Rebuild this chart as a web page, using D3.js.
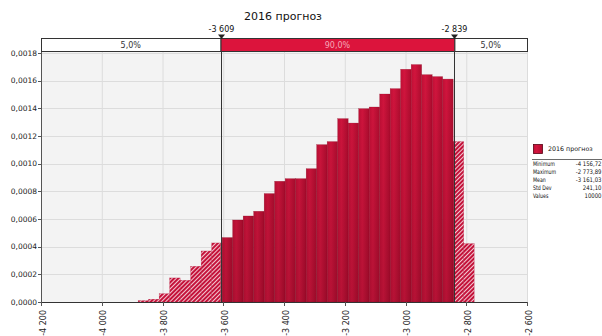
<!DOCTYPE html>
<html><head><meta charset="utf-8">
<script src="https://cdn.jsdelivr.net/npm/d3@7"></script>
<style>
html,body{margin:0;padding:0;background:#fff;overflow:hidden;}
svg{display:block;font-family:"DejaVu Sans",Verdana,sans-serif;}
</style></head>
<body>
<svg id="chart" width="602" height="336"></svg>
<script>
// ---- data ----
const title = "2016 прогноз";
const seriesName = "2016 прогноз";
// densities for 40 equal-width bins spanning [statMin, statMax]
const densities = [
  0,0,0,0,0,0,0,0,
  0.000010,0.000020,0.000060,0.000174,0.000157,0.000258,0.000369,0.000427,
  0.000466,0.000593,0.000622,0.000656,0.000784,0.000873,0.000892,0.000892,
  0.000964,0.001138,0.001160,0.001326,0.001294,0.001398,0.001410,0.001504,
  0.001543,0.001683,0.001717,0.001644,0.001630,0.001612,0.001160,0.000422
];
const statMin = -4156.72, statMax = -2773.89;
const leftCut = -3609, rightCut = -2839;
const bandLabels = ["5,0%", "90,0%", "5,0%"];
const cutLabels = ["-3 609", "-2 839"];
const xTicks = [-4200,-4000,-3800,-3600,-3400,-3200,-3000,-2800,-2600];
const yTicks = [0,0.0002,0.0004,0.0006,0.0008,0.0010,0.0012,0.0014,0.0016,0.0018];
const statNames = ["Minimum","Maximum","Mean","Std Dev","Values"];
const statValues = ["-4 156,72","-2 773,89","-3 161,03","241,10","10000"];

// ---- layout ----
const L = 41, R = 527, T = 51, B = 302;
const svg = d3.select("#chart");
const x = d3.scaleLinear().domain([-4200,-2600]).range([L,R]);
const y = d3.scaleLinear().domain([0,0.001815]).range([B,T]);
const fmtX = v => (v<0?"-":"") + d3.format(",")(Math.abs(v)).replace(/,/g," ");
const fmtY = v => d3.format(".4f")(v).replace(".", ",");

const defs = svg.append("defs");
const g1 = defs.append("linearGradient").attr("id","barGrad").attr("x1",0).attr("x2",1).attr("y1",0).attr("y2",0);
g1.append("stop").attr("offset","0%").attr("stop-color","#c20f36");
g1.append("stop").attr("offset","35%").attr("stop-color","#d4153e");
g1.append("stop").attr("offset","100%").attr("stop-color","#b00c2f");
const g2 = defs.append("linearGradient").attr("id","shade").attr("gradientUnits","userSpaceOnUse")
  .attr("x1",0).attr("x2",0).attr("y1",T).attr("y2",B);
g2.append("stop").attr("offset","0%").attr("stop-color","#000").attr("stop-opacity",0);
g2.append("stop").attr("offset","100%").attr("stop-color","#000").attr("stop-opacity",0.14);
const pat = defs.append("pattern").attr("id","hatch").attr("patternUnits","userSpaceOnUse")
  .attr("width",3).attr("height",3).attr("patternTransform","rotate(45)");
pat.append("rect").attr("width",3).attr("height",3).attr("fill","#c4123a");
pat.append("line").attr("x1",0.5).attr("x2",0.5).attr("y1",0).attr("y2",3).attr("stroke","#f8dde3").attr("stroke-width",0.9);

// plot background
svg.append("rect").attr("x",L).attr("y",T).attr("width",R-L).attr("height",B-T).attr("fill","#f3f3f3");

// gridlines
svg.append("g").selectAll("line").data(xTicks.slice(1)).join("line")
  .attr("x1",d=>x(d)+0.5).attr("x2",d=>x(d)+0.5).attr("y1",T).attr("y2",B)
  .attr("stroke","#dcdcdc").attr("stroke-width",1);
svg.append("g").selectAll("line").data(yTicks.slice(1)).join("line")
  .attr("x1",L).attr("x2",R).attr("y1",d=>Math.round(y(d))+0.5).attr("y2",d=>Math.round(y(d))+0.5)
  .attr("stroke","#dcdcdc").attr("stroke-width",1);

// bins
const nb = densities.length;
const bw = (statMax - statMin)/nb;
const bins = densities.map((d,i)=>({x0: statMin + i*bw, x1: statMin + (i+1)*bw, d}));

defs.append("clipPath").attr("id","cLeft").append("rect")
  .attr("x",L).attr("y",T).attr("width",x(leftCut)-L).attr("height",B-T);
defs.append("clipPath").attr("id","cMid").append("rect")
  .attr("x",x(leftCut)).attr("y",T).attr("width",x(rightCut)-x(leftCut)).attr("height",B-T);
defs.append("clipPath").attr("id","cRight").append("rect")
  .attr("x",x(rightCut)).attr("y",T).attr("width",R-x(rightCut)).attr("height",B-T);

function drawBars(clip, fill, shade){
  const g = svg.append("g").attr("clip-path",`url(#${clip})`);
  const nz = bins.filter(b=>b.d>0);
  g.selectAll("rect.b").data(nz).join("rect").attr("class","b")
    .attr("x",b=>x(b.x0)).attr("y",b=>y(b.d))
    .attr("width",b=>x(b.x1)-x(b.x0)).attr("height",b=>B-y(b.d))
    .attr("fill",fill).attr("stroke", shade ? "#8e0a24" : "#b00c30").attr("stroke-width",0.4).attr("stroke-opacity",0.6);
  if (shade) {
    g.selectAll("rect.s").data(nz).join("rect").attr("class","s")
      .attr("x",b=>x(b.x0)).attr("y",b=>y(b.d))
      .attr("width",b=>x(b.x1)-x(b.x0)).attr("height",b=>B-y(b.d))
      .attr("fill","url(#shade)");
  }
}
drawBars("cLeft","url(#hatch)",false);
drawBars("cMid","url(#barGrad)",true);
drawBars("cRight","url(#hatch)",false);

// axes lines
svg.append("line").attr("x1",L+0.5).attr("x2",L+0.5).attr("y1",T).attr("y2",B+0.5).attr("stroke","#555");
svg.append("line").attr("x1",L).attr("x2",R+0.5).attr("y1",B+0.5).attr("y2",B+0.5).attr("stroke","#333");

// y ticks
const yg = svg.append("g");
yg.selectAll("line").data(yTicks).join("line")
  .attr("x1",L-3).attr("x2",L).attr("y1",d=>Math.round(y(d))+0.5).attr("y2",d=>Math.round(y(d))+0.5).attr("stroke","#555");
yg.selectAll("text").data(yTicks).join("text")
  .attr("x",L-4).attr("y",d=>y(d)).attr("dy","0.35em").attr("text-anchor","end")
  .attr("font-size",7.5).attr("fill","#222").text(fmtY);

// x ticks
const xg = svg.append("g");
xg.selectAll("line").data(xTicks).join("line")
  .attr("x1",d=>Math.round(x(d))+0.5).attr("x2",d=>Math.round(x(d))+0.5).attr("y1",B).attr("y2",B+4).attr("stroke","#555");
xg.selectAll("text").data(xTicks).join("text")
  .attr("transform",d=>`translate(${x(d)+4.5},${B+8}) rotate(-90)`)
  .attr("text-anchor","end").attr("font-size",8).attr("fill","#222").text(fmtX);

// cut lines
[leftCut,rightCut].forEach(c=>{
  svg.append("line").attr("x1",Math.round(x(c))+0.5).attr("x2",Math.round(x(c))+0.5)
    .attr("y1",38).attr("y2",B).attr("stroke","#333").attr("stroke-width",1);
});

// band
const bandY = 38, bandH = 13;
const bands = [[L, x(leftCut)], [x(leftCut), x(rightCut)], [x(rightCut), R]];
svg.append("g").selectAll("rect").data(bands).join("rect")
  .attr("x",d=>d[0]+0.5).attr("y",bandY+0.5).attr("width",d=>d[1]-d[0]).attr("height",bandH)
  .attr("fill",(d,i)=>i===1?"#dc143c":"#fff").attr("stroke","#333").attr("stroke-width",1);
svg.append("g").selectAll("text").data(bands).join("text")
  .attr("x",d=>(d[0]+d[1])/2).attr("y",bandY+bandH/2+0.5).attr("dy","0.35em")
  .attr("text-anchor","middle").attr("font-size",8)
  .attr("fill",(d,i)=>i===1?"#f4a8b8":"#333").text((d,i)=>bandLabels[i]);

// markers
[leftCut,rightCut].forEach((c,i)=>{
  const cx = Math.round(x(c))+0.5;
  svg.append("path").attr("d",`M${cx-3.5},${34.5}L${cx+3.5},${34.5}L${cx},${39}Z`).attr("fill","#222");
  svg.append("text").attr("x",cx).attr("y",32).attr("text-anchor","middle")
    .attr("font-size",8).attr("fill","#111").text(cutLabels[i]);
});

// title
svg.append("text").attr("x",283).attr("y",19.5).attr("text-anchor","middle")
  .attr("font-size",11).attr("fill","#111").text(title);

// legend
const lg = svg.append("g");
lg.append("rect").attr("x",533.5).attr("y",144.5).attr("width",9).attr("height",9)
  .attr("fill","url(#barGrad)").attr("stroke","#5a0414").attr("stroke-width",0.8);
lg.append("text").attr("x",548).attr("y",149).attr("dy","0.35em").attr("font-size",6.3).attr("fill","#111").text(seriesName);
lg.append("line").attr("x1",532).attr("x2",602).attr("y1",159.5).attr("y2",159.5).attr("stroke","#444").attr("stroke-width",0.8);
statNames.forEach((n,i)=>{
  const yy = 164 + i*7.9;
  lg.append("text").attr("transform",`translate(533,${yy}) scale(0.75,1)`).attr("dy","0.35em")
    .attr("font-size",6.3).attr("fill","#111").text(n);
  lg.append("text").attr("transform",`translate(601.5,${yy}) scale(0.85,1)`).attr("dy","0.35em").attr("text-anchor","end")
    .attr("font-size",6.3).attr("fill","#111").text(statValues[i]);
});
</script>
</body></html>
